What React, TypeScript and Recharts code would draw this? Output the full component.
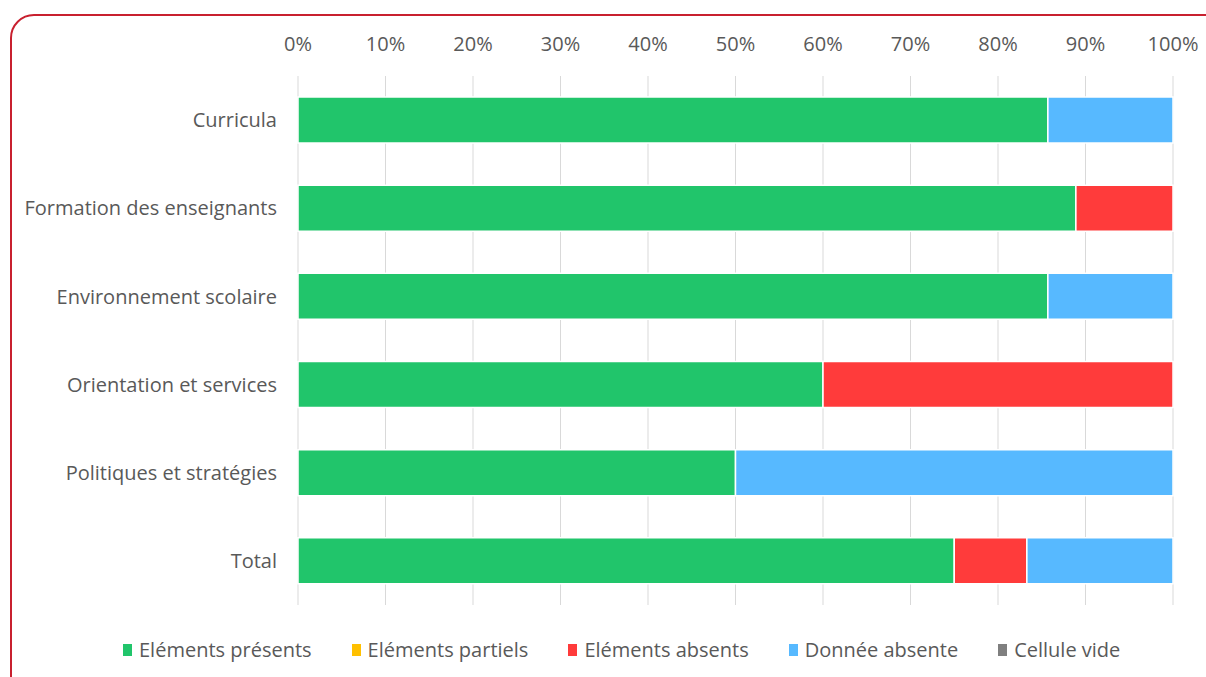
import React from 'react';
import { BarChart, Bar, XAxis, YAxis, CartesianGrid, Legend } from 'recharts';

const categories = ['Curricula', 'Formation des enseignants', 'Environnement scolaire', 'Orientation et services', 'Politiques et stratégies', 'Total'];
const presents = [85.7, 88.9, 85.7, 60, 50, 75];
const partiels = [0, 0, 0, 0, 0, 0];
const absents = [0, 11.1, 0, 40, 0, 8.3];
const donneeAbsente = [14.3, 0, 14.3, 0, 50, 16.7];
const celluleVide = [0, 0, 0, 0, 0, 0];
const xTicks = [0, 10, 20, 30, 40, 50, 60, 70, 80, 90, 100];

const series = [
  { key: 'presents', name: 'Eléments présents', color: '#21C56B', values: presents },
  { key: 'partiels', name: 'Eléments partiels', color: '#FFC000', values: partiels },
  { key: 'absents', name: 'Eléments absents', color: '#FF3B3B', values: absents },
  { key: 'donnee', name: 'Donnée absente', color: '#57B9FF', values: donneeAbsente },
  { key: 'vide', name: 'Cellule vide', color: '#7F7F7F', values: celluleVide },
];

const data = categories.map((c, i) => {
  const row: any = { name: c };
  series.forEach((s) => { row[s.key] = s.values[i]; });
  return row;
});

const FONT = '"Open Sans", sans-serif';
const TEXT = '#595959';

const renderLegend = () => (
  <div style={{ display: 'flex', justifyContent: 'flex-start', paddingLeft: 123, fontFamily: FONT, fontSize: 20, color: TEXT }}>
    {series.map((s) => (
      <div key={s.key} style={{ display: 'flex', alignItems: 'center', marginRight: 40 }}>
        <span style={{ display: 'inline-block', width: 9, height: 12, background: s.color, marginRight: 7 }} />
        <span>{s.name}</span>
      </div>
    ))}
  </div>
);

export default function App() {
  return (
    <div style={{ position: 'fixed', left: 0, top: 0, width: 1206, height: 677, overflow: 'hidden', background: '#fff' }}>
      <div style={{ position: 'absolute', left: 10, top: 14, width: 1220, height: 700, border: '2px solid #C8202F', borderRadius: 24, boxSizing: 'border-box' }} />
      <div style={{ position: 'absolute', left: 0, top: 0 }}>
        <BarChart width={1206} height={677} data={data} layout="vertical" margin={{ top: 36, right: 33, bottom: 72, left: 8 }} barSize={46}>
          <CartesianGrid horizontal={false} stroke="#D9D9D9" />
          <XAxis type="number" orientation="top" domain={[0, 100]} ticks={xTicks} tickFormatter={(v) => `${v}%`} axisLine={false} tickLine={false} height={40} tickMargin={19} tick={{ fill: TEXT, fontSize: 20, fontFamily: FONT }} interval={0} />
          <YAxis type="category" dataKey="name" width={290} axisLine={false} tickLine={false} tickMargin={15} tick={{ fill: TEXT, fontSize: 20, fontFamily: FONT }} interval={0} />
          <Legend layout="vertical" align="center" verticalAlign="middle" content={renderLegend} wrapperStyle={{ left: 0, top: 636, width: 1206 }} />
          {series.map((s) => (
            <Bar key={s.key} dataKey={s.key} name={s.name} stackId="a" fill={s.color} stroke="#fff" strokeWidth={1.5} isAnimationActive={false} />
          ))}
        </BarChart>
      </div>
    </div>
  );
}
